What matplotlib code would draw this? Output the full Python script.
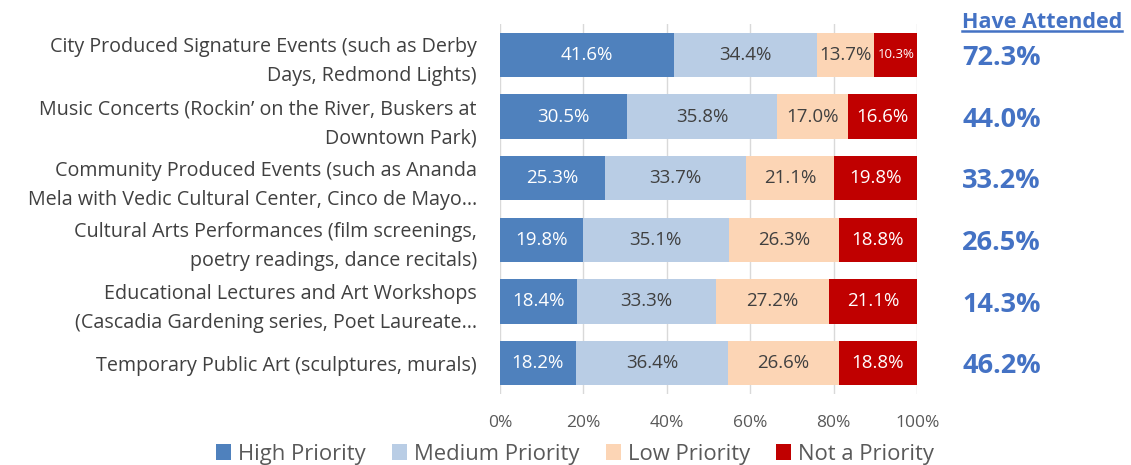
import matplotlib.pyplot as plt
import numpy as np

plt.rcParams['font.family'] = ['Open Sans', 'DejaVu Sans']

categories = [
    "City Produced Signature Events (such as Derby\nDays, Redmond Lights)",
    "Music Concerts (Rockin\u2019 on the River, Buskers at\nDowntown Park)",
    "Community Produced Events (such as Ananda\nMela with Vedic Cultural Center, Cinco de Mayo\u2026",
    "Cultural Arts Performances (film screenings,\npoetry readings, dance recitals)",
    "Educational Lectures and Art Workshops\n(Cascadia Gardening series, Poet Laureate\u2026",
    "Temporary Public Art (sculptures, murals)",
]
series_names = ["High Priority", "Medium Priority", "Low Priority", "Not a Priority"]
high = [41.6, 30.5, 25.3, 19.8, 18.4, 18.2]
medium = [34.4, 35.8, 33.7, 35.1, 33.3, 36.4]
low = [13.7, 17.0, 21.1, 26.3, 27.2, 26.6]
not_priority = [10.3, 16.6, 19.8, 18.8, 21.1, 18.8]
attended = [72.3, 44.0, 33.2, 26.5, 14.3, 46.2]

colors = ["#4F81BD", "#B9CDE5", "#FCD5B5", "#C00000"]
text_colors = ["white", "#404040", "#404040", "white"]

fig = plt.figure(figsize=(11.31, 4.65), dpi=100)
ax = fig.add_axes([0.442, 0.153, 0.369, 0.795])

y = np.arange(len(categories))
left = np.zeros(len(categories))
for vals, name, col, tcol in zip([high, medium, low, not_priority], series_names, colors, text_colors):
    vals = np.array(vals)
    ax.barh(y, vals, left=left, height=0.72, color=col, label=name, zorder=3)
    for yi, l, v in zip(y, left, vals):
        fs = 9.5 if v < 12 else 13.5
        ax.text(l + v / 2, yi, f"{v:.1f}%", ha='center', va='center',
                color=tcol, fontsize=fs, zorder=4)
    left += vals

ax.set_xlim(0, 100)
ax.set_ylim(len(categories) - 0.5, -0.5)
ax.set_xticks(np.arange(0, 101, 20))
ax.set_xticklabels([f"{t}%" for t in range(0, 101, 20)], fontsize=12.5, color="#595959")
ax.set_yticks(y)
ax.set_yticklabels(categories, fontsize=14.2, color="#404040", linespacing=1.6)
ax.tick_params(axis='y', length=0, pad=16.5)
ax.tick_params(axis='x', length=0, pad=15)
ax.grid(axis='x', color="#D9D9D9", linewidth=1, zorder=0)
for s in ax.spines.values():
    s.set_visible(False)

# attended column
for yi, a in zip(y, attended):
    ax.text(1.108, yi + 0.05, f"{a:.1f}%", transform=ax.get_yaxis_transform(),
            ha='left', va='center', fontsize=19.5, fontweight='bold', color="#4472C4")
hdr = fig.text(962 / 1131, 1 - 22 / 465, "Have Attended", ha='left', va='center',
               fontsize=15.5, fontweight='bold', color="#4472C4")
fig.canvas.draw()
bb = hdr.get_window_extent().transformed(fig.transFigure.inverted())
fig.lines.append(plt.Line2D([bb.x0, bb.x1], [bb.y0 + 0.003, bb.y0 + 0.003],
                            transform=fig.transFigure, color="#4472C4", linewidth=1.8))

leg = fig.legend(loc='lower center', bbox_to_anchor=(575 / 1131, -0.042), ncol=4, frameon=False,
                 fontsize=15.8, handlelength=0.7, handleheight=0.7, handletextpad=0.3,
                 columnspacing=1.2, labelcolor="#595959")

fig.savefig("out.png", dpi=100)
